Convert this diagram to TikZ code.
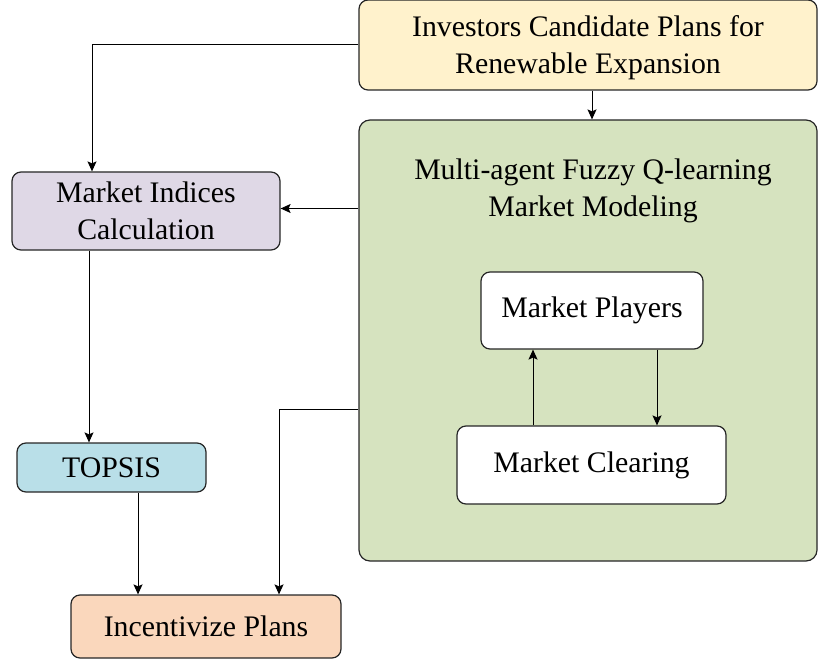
\documentclass[tikz,border=0pt]{standalone}
\usepackage{fontspec}
\setmainfont{Liberation Serif}
\usetikzlibrary{arrows.meta}
\definecolor{planfill}{HTML}{FFF2CC}
\definecolor{modelfill}{HTML}{D6E3BF}
\definecolor{indexfill}{HTML}{DFD8E6}
\definecolor{topsisfill}{HTML}{B9DFE8}
\definecolor{incfill}{HTML}{FAD7BC}
\tikzset{
        flow/.style={
            -{Stealth[length=5pt,width=4.5pt,inset=1pt]},
            line width=0.5pt,
        },
    }

\begin{document}
\begin{tikzpicture}[x=0.5pt,y=-0.5pt,
          box/.style = {draw=black!85,line width=0.6pt,rounded corners=4.5pt,align=center,inner sep=0pt,
                        font=\fontsize{14.9}{18.5}\selectfont},
          ]
 \useasboundingbox (0,0) rectangle (818,663);
          %\draw[help lines] (0,0) grid[step=50] (818,663);
          \node[box,fill=planfill,minimum width=229pt,minimum height=45pt] (@plans) at (588,45) {\rule{0pt}{13pt}Investors Candidate Plans for\\Renewable Expansion};
          \node[box,fill=modelfill,rounded corners=5.5pt,minimum width=229pt,minimum height=220.5pt] (@model) at (588,340.5) {};
          \node[font=\fontsize{14.9}{18.5}\selectfont,align=center] (@title) at (593,191) {Multi-agent Fuzzy Q-learning\\Market Modeling};
          \node[box,fill=white,minimum width=111pt,minimum height=38.5pt] (@players) at (592,310.5) {Market Players};
          \node[box,fill=white,minimum width=134.5pt,minimum height=39pt] (@clearing) at (591.5,465) {Market Clearing};
          \node[box,fill=indexfill,minimum width=134pt,minimum height=39pt] (@indices) at (146,211) {Market Indices\\Calculation};
          \node[box,fill=topsisfill,minimum width=94.5pt,minimum height=24.5pt] (@topsis) at (111.5,467.5) {TOPSIS};
          \node[box,fill=incfill,minimum width=135pt,minimum height=31.5pt] (@inc) at (206,626.5) {Incentivize Plans};
          % connections
          \draw[flow] (@plans.west) -| ([xshift=-27pt]@indices.north);
          \draw[flow] ([xshift=2pt]@plans.south) -- ([xshift=2pt]@plans.south |- @model.north);
          \draw[flow] ([yshift=66pt]@model.west) coordinate (@m1) -- (@m1 -| @indices.east);
          \draw[flow] ([yshift=-34.25pt]@model.west) -| ([xshift=36.5pt]@inc.north);
          \draw[flow] ([xshift=-28.5pt]@indices.south) coordinate (@i1) -- (@i1 |- @topsis.north);
          \draw[flow] ([xshift=13.25pt]@topsis.south) coordinate (@t1) -- (@t1 |- @inc.north);
          \draw[flow] ([xshift=-29.25pt]@clearing.north) coordinate (@c1) -- (@c1 |- @players.south);
          \draw[flow] ([xshift=32.5pt]@players.south) coordinate (@p1) -- (@p1 |- @clearing.north);
        \end{tikzpicture}
\end{document}
